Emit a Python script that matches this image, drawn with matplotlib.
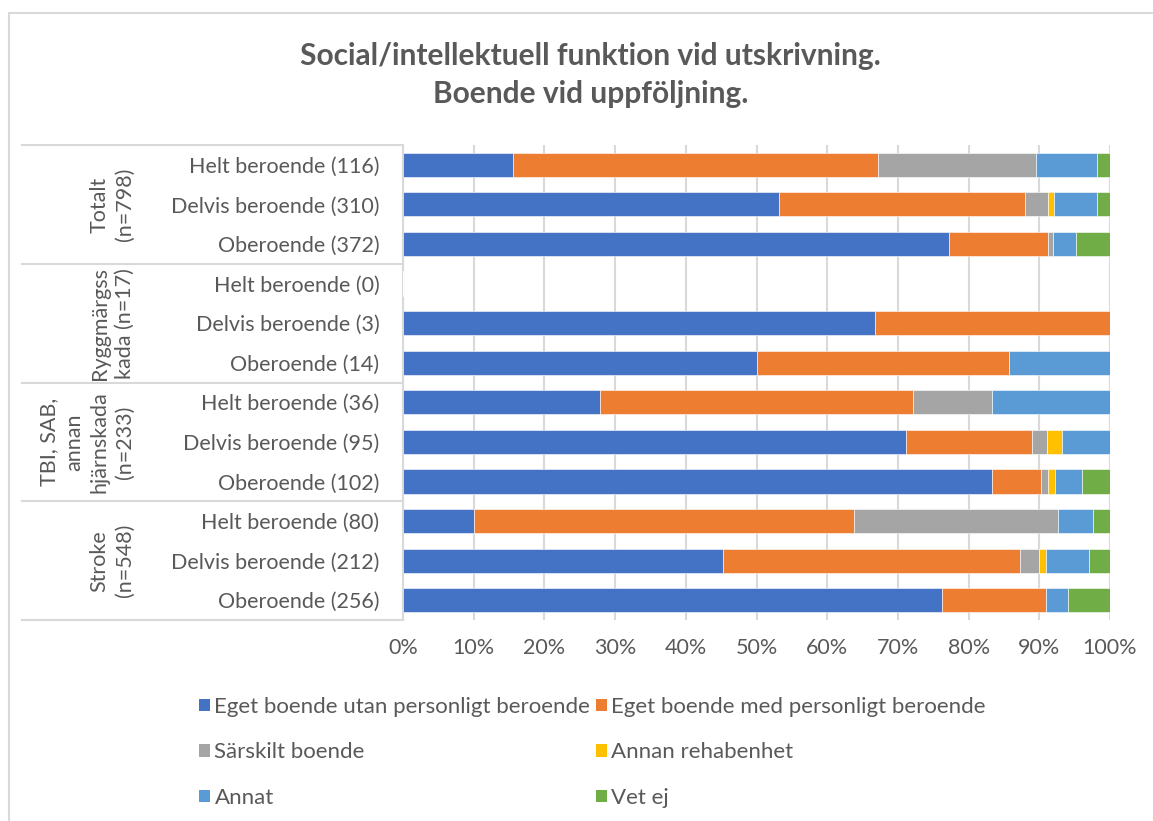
import matplotlib.pyplot as plt
from matplotlib.patches import Patch, Rectangle
import numpy as np

plt.rcParams['font.family'] = ['Lato', 'DejaVu Sans']

title = "Social/intellektuell funktion vid utskrivning.\nBoende vid uppföljning."

# Row labels, top to bottom
row_labels = [
    "Helt beroende (116)", "Delvis beroende (310)", "Oberoende (372)",
    "Helt beroende (0)", "Delvis beroende (3)", "Oberoende (14)",
    "Helt beroende (36)", "Delvis beroende (95)", "Oberoende (102)",
    "Helt beroende (80)", "Delvis beroende (212)", "Oberoende (256)",
]
group_labels = ["Totalt\n(n=798)", "Ryggmärgss\nkada (n=17)",
                "TBI, SAB,\nannan\nhjärnskada\n(n=233)", "Stroke\n(n=548)"]

series_names = [
    "Eget boende utan personligt beroende",
    "Eget boende med personligt beroende",
    "Särskilt boende",
    "Annan rehabenhet",
    "Annat",
    "Vet ej",
]
colors = ["#4472C4", "#ED7D31", "#A5A5A5", "#FFC000", "#5B9BD5", "#70AD47"]

# percent per series, one value per row (top to bottom)
eget_utan = [15.5, 53.2, 77.2, 0, 66.7, 50.0, 27.8, 71.1, 83.3, 10.0, 45.3, 76.2]
eget_med = [51.7, 34.8, 14.0, 0, 33.3, 35.7, 44.4, 17.9, 6.9, 53.8, 41.9, 14.8]
sarskilt = [22.4, 3.2, 0.8, 0, 0, 0, 11.1, 2.1, 1.0, 28.8, 2.8, 0]
rehab = [0, 0.9, 0, 0, 0, 0, 0, 2.1, 1.0, 0, 1.0, 0]
annat = [8.6, 6.1, 3.2, 0, 0, 14.3, 16.7, 6.8, 3.9, 5.0, 6.1, 3.1]
vet_ej = [1.8, 1.8, 4.8, 0, 0, 0, 0, 0, 3.9, 2.5, 2.9, 5.9]

series = [eget_utan, eget_med, sarskilt, rehab, annat, vet_ej]
text_color = "#595959"
grid_color = "#D9D9D9"
fs = 15.5

fig = plt.figure(figsize=(11.53, 8.21), dpi=100)
ax = fig.add_axes([403 / 1153, 1 - 620 / 821, 707 / 1153, 475 / 821])

y = np.arange(len(row_labels))
left = np.zeros(len(row_labels))
for vals, col, name in zip(series, colors, series_names):
    vals = np.array(vals, dtype=float)
    ax.barh(y, vals, left=left, height=0.61, color=col, edgecolor="white",
            linewidth=0.4, label=name, zorder=3)
    left += vals

ax.set_xlim(0, 100)
ax.set_ylim(len(row_labels) - 0.5, -0.5)
ax.set_xticks(np.arange(0, 101, 10))
ax.set_xticklabels([f"{v}%" for v in range(0, 101, 10)])
ax.set_yticks(y)
ax.set_yticklabels(row_labels)
ax.tick_params(axis="both", length=0, labelsize=fs, colors=text_color)
ax.tick_params(axis="y", pad=17)
ax.tick_params(axis="x", pad=13)
ax.grid(axis="x", color=grid_color, linewidth=1.5, zorder=0)
for s in ["top", "right", "bottom"]:
    ax.spines[s].set_visible(False)
ax.spines["left"].set_color(grid_color)
ax.spines["left"].set_linewidth(1.5)

# group separators and group labels on the category axis
trans = ax.get_yaxis_transform()
x0 = (22 - 403) / 707
for b in [-0.5, 2.5, 5.5, 8.5, 11.5]:
    ax.plot([x0, 0], [b, b], transform=trans, color=grid_color,
            linewidth=1.5, clip_on=False)
for i, g in enumerate(group_labels):
    ax.text((135 - 403) / 707, 3 * i + 1, g, transform=trans, rotation=90,
            ha="right", va="center", multialignment="center",
            fontsize=fs, color=text_color, linespacing=1.33)

fig.text(0.512, 1 - 75 / 821, title, ha="center", va="center",
         fontsize=21.5, fontweight="bold", color=text_color, linespacing=1.4)

# legend filled row by row
handles = [Patch(facecolor=c, edgecolor="none") for c in colors]
order = [0, 2, 4, 1, 3, 5]
fig.legend([handles[i] for i in order], [series_names[i] for i in order],
           ncol=2, loc="upper left", bbox_to_anchor=(190 / 1153, 1 - 688 / 821),
           frameon=False, fontsize=16, labelcolor=text_color,
           handlelength=0.5, handleheight=0.5, handletextpad=0.2,
           columnspacing=0.25, labelspacing=1.15, borderaxespad=0)

# outer chart border
fig.add_artist(Rectangle((9 / 1153, -0.1), 1.2, 1 - 13 / 821 + 0.1,
                         transform=fig.transFigure, fill=False,
                         edgecolor=grid_color, linewidth=1.5))

fig.savefig("out.png", dpi=100, facecolor="white")
